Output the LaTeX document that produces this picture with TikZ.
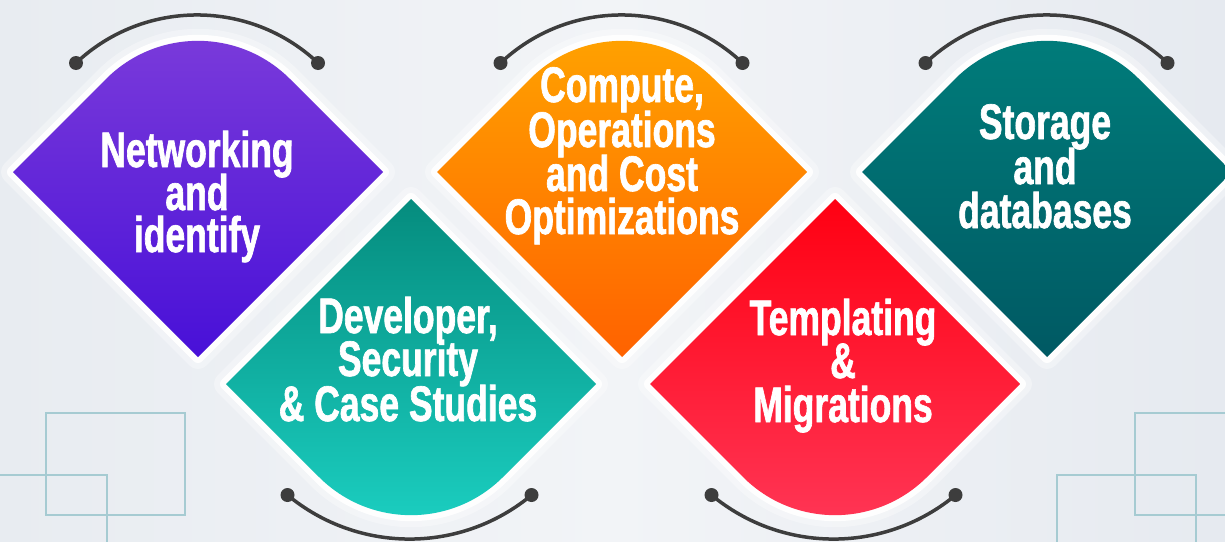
\documentclass[tikz,border=0pt]{standalone}
\usepackage{fontspec}
\newfontfamily\lblfont{Liberation Sans}[FakeStretch=0.71,FakeBold=1.3]
\usetikzlibrary{calc}
\definecolor{bgL}{HTML}{E8ECF1}
\definecolor{bgM}{HTML}{F2F4F7}
\definecolor{bgR}{HTML}{E6EAF0}
\definecolor{deco}{HTML}{A6CBD2}
\definecolor{arcgray}{HTML}{3D3D3D}
\definecolor{purT}{HTML}{7B3BDA}
\definecolor{purB}{HTML}{4810D8}
\definecolor{oraT}{HTML}{FFA300}
\definecolor{oraB}{HTML}{FF6200}
\definecolor{dtlT}{HTML}{007D7B}
\definecolor{dtlB}{HTML}{005963}
\definecolor{tlT}{HTML}{058C7E}
\definecolor{tlB}{HTML}{1BCFC1}
\definecolor{redT}{HTML}{FF0012}
\definecolor{redB}{HTML}{FF3656}
\tikzset{
  lbl/.style={anchor=base, inner sep=0pt, text=white, font=\lblfont\bfseries\fontsize{50}{44}\selectfont},
  decoline/.style={draw=deco, line width=1.4pt},
  arcline/.style={draw=arcgray, line width=3.5pt},
  dotfill/.style={fill=arcgray},
  glowA/.style={draw=white, line width=24pt, opacity=0.35, line join=round},
  glowB/.style={draw=white, line width=12pt, opacity=0.95, line join=round},
}
\def\toppath#1#2{(#1,#2+185) -- (#1-185,#2) -- (#1-91.92,#2-93.08) arc[start angle=225,end angle=315,radius=130] -- (#1+185,#2) -- cycle}
\def\botpath#1#2{(#1,#2-185) -- (#1-185,#2) -- (#1-91.92,#2+93.08) arc[start angle=135,end angle=45,radius=130] -- (#1+185,#2) -- cycle}
\begin{document}
\begin{tikzpicture}[x=1pt,y=-1pt]
\useasboundingbox (0,0) rectangle (1225,541);
\shade[left color=bgL, right color=bgR, middle color=bgM] (0,0) rectangle (1225,541);
% decorative frames
\draw[decoline] (46,413) rectangle (185,515);
\draw[decoline] (0,475) -- (107,475) -- (107,545);
\draw[decoline] (1230,413) -- (1135,413) -- (1135,515) -- (1230,515);
\draw[decoline] (1057,545) -- (1057,475) -- (1196,475) -- (1196,545);
% glows
\foreach \s in {glowA,glowB}{
  \path[\s] \toppath{198}{172};
  \path[\s] \toppath{622}{172};
  \path[\s] \toppath{1047}{172};
  \path[\s] \botpath{411}{384};
  \path[\s] \botpath{835}{384};
}
% shapes
\shade[top color=purT, bottom color=purB] \toppath{198}{172};
\shade[top color=oraT, bottom color=oraB] \toppath{622}{172};
\shade[top color=dtlT, bottom color=dtlB] \toppath{1047}{172};
\shade[top color=tlT, bottom color=tlB] \botpath{411}{384};
\shade[top color=redT, bottom color=redB] \botpath{835}{384};
% top arcs
\coordinate (a1l) at (76,63);   \coordinate (a1r) at (318,63);
\coordinate (a2l) at (500.5,63); \coordinate (a2r) at (742.5,63);
\coordinate (a3l) at (925.5,63); \coordinate (a3r) at (1167.5,63);
\foreach \p in {a1l,a2l,a3l}{
  \draw[arcline] (\p) arc[start angle=226.7,end angle=313.3,radius=176.5];
}
% bottom arcs
\coordinate (b1l) at (287.5,495); \coordinate (b1r) at (531.5,495);
\coordinate (b2l) at (711.5,495); \coordinate (b2r) at (955.5,495);
\foreach \p in {b1l,b2l}{
  \draw[arcline] (\p) arc[start angle=129.7,end angle=50.3,radius=191.1];
}
\foreach \p in {a1l,a1r,a2l,a2r,a3l,a3r,b1l,b1r,b2l,b2r}{
  \fill[dotfill] (\p) circle[radius=7];
}
% labels
\node[lbl] (n1) at (197,167) {Networking};
\node[lbl] (n2) at (197,210) {and};
\node[lbl] (n3) at (197,252) {identify};
\node[lbl] (c1) at (622,102) {Compute,};
\node[lbl] (c2) at (622,147) {Operations};
\node[lbl] (c3) at (622,191) {and Cost};
\node[lbl] (c4) at (622,234) {Optimizations};
\node[lbl] (s1) at (1045,139) {Storage};
\node[lbl] (s2) at (1045,184) {and};
\node[lbl] (s3) at (1045,228) {databases};
\node[lbl] (d1) at (408,333) {Developer,};
\node[lbl] (d2) at (408,376) {Security};
\node[lbl] (d3) at (408,421) {\& Case Studies};
\node[lbl] (t1) at (843,335) {Templating};
\node[lbl] (t2) at (843,378) {\&};
\node[lbl] (t3) at (843,422) {Migrations};
\end{tikzpicture}
\end{document}
